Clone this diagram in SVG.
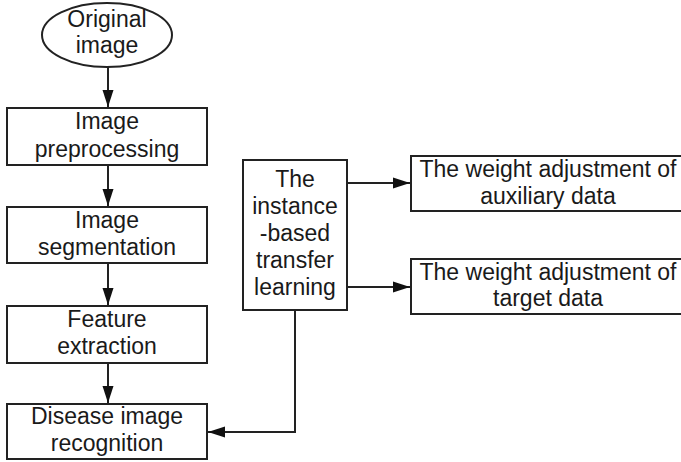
<svg xmlns="http://www.w3.org/2000/svg" width="681" height="462" viewBox="0 0 681 462">
<defs>
<style>
.n{fill:#fff;stroke:#222;stroke-width:2}
.t{font-family:"Liberation Sans",Arial,sans-serif;font-size:23px;fill:#1a1a1a;text-anchor:middle}
.c{fill:none;stroke:#222;stroke-width:2}
</style>
<marker id="ah" markerWidth="18" markerHeight="12" refX="17" refY="6" orient="auto" markerUnits="userSpaceOnUse">
<path d="M0,0.5 L17,6 L0,11.5 Z" fill="#111"/>
</marker>
</defs>
<rect width="681" height="462" fill="#fff"/>
<g id="connectors">
<line class="c" x1="108" y1="67" x2="108" y2="107" marker-end="url(#ah)"/>
<line class="c" x1="108" y1="165" x2="108" y2="206" marker-end="url(#ah)"/>
<line class="c" x1="108" y1="263" x2="108" y2="305" marker-end="url(#ah)"/>
<line class="c" x1="108" y1="363" x2="108" y2="403" marker-end="url(#ah)"/>
<line class="c" x1="347" y1="183" x2="410" y2="183" marker-end="url(#ah)"/>
<line class="c" x1="347" y1="287" x2="410" y2="287" marker-end="url(#ah)"/>
<polyline class="c" points="295,310 295,432 208,432" marker-end="url(#ah)"/>
</g>
<g id="original-image">
<ellipse class="n" cx="107" cy="35" rx="65" ry="32"/>
<text class="t" x="107" y="27">Original</text>
<text class="t" x="107" y="53">image</text>
</g>
<g id="image-preprocessing">
<rect class="n" x="7" y="108" width="200" height="57"/>
<text class="t" x="107" y="129">Image</text>
<text class="t" x="107" y="157">preprocessing</text>
</g>
<g id="image-segmentation">
<rect class="n" x="7" y="207" width="200" height="56"/>
<text class="t" x="107" y="228">Image</text>
<text class="t" x="107" y="255">segmentation</text>
</g>
<g id="feature-extraction">
<rect class="n" x="7" y="306" width="200" height="57"/>
<text class="t" x="107" y="327">Feature</text>
<text class="t" x="107" y="354">extraction</text>
</g>
<g id="disease-image-recognition">
<rect class="n" x="7" y="404" width="200" height="55"/>
<text class="t" x="107" y="424">Disease image</text>
<text class="t" x="107" y="451">recognition</text>
</g>
<g id="transfer-learning">
<rect class="n" x="243" y="160" width="104" height="150"/>
<text class="t" x="295" y="187">The</text>
<text class="t" x="295" y="214">instance</text>
<text class="t" x="295" y="241">-based</text>
<text class="t" x="295" y="268">transfer</text>
<text class="t" x="295" y="295">learning</text>
</g>
<g id="auxiliary-weight">
<rect class="n" x="411" y="156" width="290" height="55"/>
<text class="t" x="548" y="177">The weight adjustment of</text>
<text class="t" x="548" y="204">auxiliary data</text>
</g>
<g id="target-weight">
<rect class="n" x="411" y="259" width="290" height="55"/>
<text class="t" x="548" y="280">The weight adjustment of</text>
<text class="t" x="548" y="306">target data</text>
</g>
</svg>
